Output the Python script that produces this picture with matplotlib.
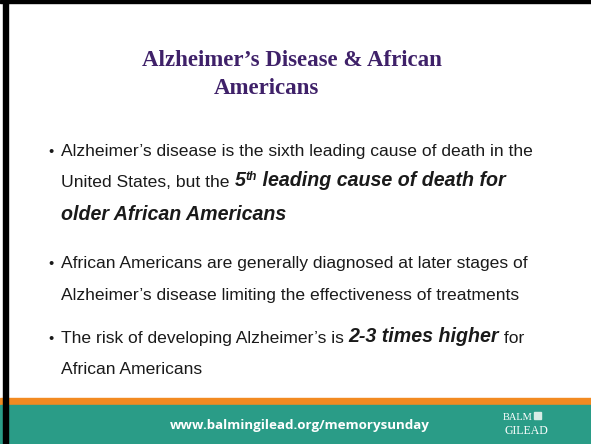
import matplotlib.pyplot as plt
from matplotlib.patches import Rectangle

# slide text
title_lines = ["Alzheimer\u2019s Disease & African", "Americans"]
title_x = [292, 266]
title_y = [61, 89]

# each bullet is a list of lines, each line a list of (text, style)
bullets = [
    [
        [("Alzheimer\u2019s disease is the sixth leading cause of death in the", "n")],
        [("United States, but the ", "n"), ("5", "bi"), ("th", "sup"),
         (" leading cause of death for", "bi")],
        [("older African Americans", "bi")],
    ],
    [
        [("African Americans are generally diagnosed at later stages of", "n")],
        [("Alzheimer\u2019s disease limiting the effectiveness of treatments", "n")],
    ],
    [
        [("The risk of developing Alzheimer\u2019s is ", "n"), ("2-3 times higher", "bi"),
         (" for", "n")],
        [("African Americans", "n")],
    ],
]
line_y = [[151, 182, 215], [263, 295], [338, 369]]

url = "www.balmingilead.org/memorysunday"

purple = "#3f2169"
teal = "#2a9c87"
orange = "#f28a21"
ink = "#1a1a1a"

fig = plt.figure(figsize=(5.91, 4.44), dpi=100)
ax = fig.add_axes([0, 0, 1, 1])
ax.set_xlim(0, 591)
ax.set_ylim(444, 0)
ax.axis("off")

# frame and footer
ax.add_patch(Rectangle((0, 0), 591, 444, color="white", zorder=0))
ax.add_patch(Rectangle((0, 398), 591, 7, color=orange, zorder=1))
ax.add_patch(Rectangle((0, 405), 591, 39, color=teal, zorder=1))
ax.add_patch(Rectangle((0, 0), 591, 3.5, color="black", zorder=2))
ax.add_patch(Rectangle((3, 0), 5, 444, color="black", zorder=2))

for t, x, y in zip(title_lines, title_x, title_y):
    ax.text(x, y, t, ha="center", va="center", fontsize=16.5, fontweight="bold",
            family="Liberation Serif", color=purple)

fs = 12.6
fs_bi = 14.1
sans = "Liberation Sans"


def draw_line(x, y, segments):
    prev = None
    base = None
    for text, style in segments:
        kw = dict(family=sans, color=ink)
        if style == "bi":
            kw.update(fontweight="bold", fontstyle="italic", fontsize=fs_bi)
        else:
            kw.update(fontsize=fs)
        if prev is None:
            prev = ax.text(x, y, text, ha="left", va="baseline", **kw)
            base = prev
        elif style == "sup":
            prev = ax.annotate(text, xy=(1, 1), xycoords=prev, xytext=(0.5, 0),
                               textcoords="offset points", ha="left", va="top",
                               family=sans, color=ink, fontsize=fs_bi * 0.62,
                               fontweight="bold", fontstyle="italic")
        else:
            prev = ax.annotate(text, xy=(1, 0), xycoords=(prev, base),
                               ha="left", va="bottom", **kw)


for lines, ys in zip(bullets, line_y):
    for i, (segs, y) in enumerate(zip(lines, ys)):
        if i == 0:
            ax.text(48, y + 5, "\u2022", ha="left", va="baseline", fontsize=fs - 2,
                    family=sans, color=ink)
        draw_line(61, y + 5, segs)

ax.text(300, 425, url, ha="center", va="center", fontsize=9.6, fontweight="bold",
        family="Open Sans", color="white")

# logo
ax.text(518, 417, "BALM", ha="center", va="center", fontsize=7.5,
        family="Liberation Serif", color="white")
ax.add_patch(Rectangle((534, 412), 7, 7, color="#d8ece6", zorder=3))
ax.text(526, 431, "GILEAD", ha="center", va="center", fontsize=8.5,
        family="Liberation Serif", color="white")

fig.savefig("out.png", dpi=100)
